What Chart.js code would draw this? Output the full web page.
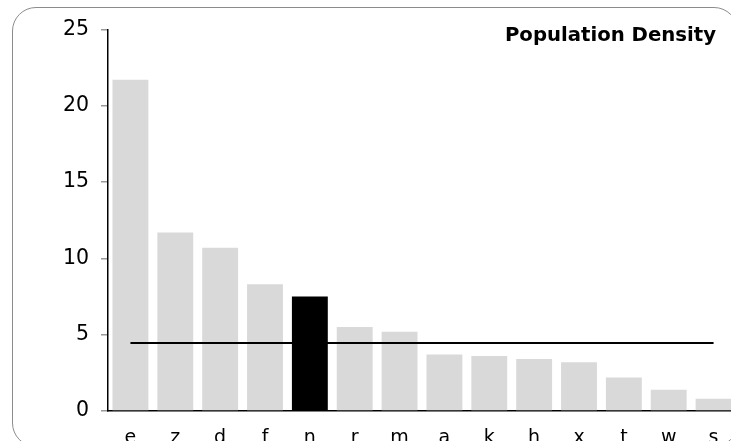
<!DOCTYPE html>
<html>
<head>
<meta charset="utf-8">
<script src="https://cdn.jsdelivr.net/npm/chart.js@4/dist/chart.umd.min.js"></script>
<style>
  html, body { margin: 0; padding: 0; background: #fff; overflow: hidden; }
  #wrap { position: relative; width: 731px; height: 441px; overflow: hidden; }
  #frame {
    position: absolute; left: 12px; top: 7px; width: 726px; height: 440px;
    border: 1.5px solid #8c8c8c; border-radius: 24px; box-sizing: border-box;
  }
  #my-chart { position: absolute; left: 0; top: 0; }
</style>
</head>
<body>
<div id="wrap">
  <div id="frame"></div>
  <canvas id="my-chart" width="736" height="441"></canvas>
</div>
<script>
'use strict';

// *** DATA ***

let regions = ['e', 'z', 'd', 'f', 'n', 'r', 'm', 'a', 'k', 'h', 'x', 't', 'w', 's'];
let densityValues = [21.7, 11.7, 10.7, 8.3, 7.5, 5.5, 5.2, 3.7, 3.6, 3.4, 3.2, 2.2, 1.4, 0.8];
let medianLine = [4.45, 4.45, 4.45, 4.45, 4.45, 4.45, 4.45, 4.45, 4.45, 4.45, 4.45, 4.45, 4.45, 4.45];
let yTicks = [0, 5, 10, 15, 20, 25];
let highlighted = 'n';
let chartTitle = 'Population Density';

// *** COLOURS ***

let barColors = regions.map(r => (r === highlighted ? '#000000' : '#d9d9d9'));

// title drawn in the top right corner of the plot
let titlePlugin = {
  id: 'cornerTitle',
  afterDraw(chart) {
    let ctx = chart.ctx;
    ctx.save();
    ctx.font = 'bold 19.7px "DejaVu Sans"';
    ctx.fillStyle = '#000';
    ctx.textAlign = 'right';
    ctx.textBaseline = 'middle';
    ctx.fillText(chartTitle, 716, 36);
    ctx.restore();
  }
};

let canvasElem = document.getElementById('my-chart');

new Chart(canvasElem, {
  type: 'bar',
  data: {
    labels: regions,
    datasets: [
      {
        type: 'line',
        data: medianLine,
        borderColor: '#000',
        borderWidth: 2,
        pointRadius: 0,
        fill: false,
        order: 0
      },
      {
        data: densityValues,
        backgroundColor: barColors,
        borderWidth: 0,
        barPercentage: 0.8,
        categoryPercentage: 1,
        order: 1
      }
    ]
  },
  options: {
    responsive: false,
    animation: false,
    layout: { padding: { top: 29.5, right: 0, bottom: 0, left: 0 } },
    plugins: {
      legend: { display: false },
      tooltip: { enabled: false },
      title: { display: false }
    },
    scales: {
      x: {
        grid: { display: false },
        border: { display: true, color: '#000', width: 1.5 },
        ticks: { color: '#000', font: { family: 'DejaVu Sans', size: 19 }, padding: 8 },
        afterFit(scale) { scale.height = 30; }
      },
      y: {
        min: 0,
        max: 25,
        afterBuildTicks(scale) { scale.ticks = yTicks.map(v => ({ value: v })); },
        grid: { drawOnChartArea: false, drawTicks: true, tickLength: 7, tickColor: '#999', lineWidth: 1.5 },
        border: { display: true, color: '#000', width: 1.5 },
        ticks: { color: '#000', font: { family: 'DejaVu Sans', size: 20.5 }, padding: 12 },
        afterFit(scale) { scale.width = 108; }
      }
    }
  },
  plugins: [titlePlugin]
});
</script>
</body>
</html>
